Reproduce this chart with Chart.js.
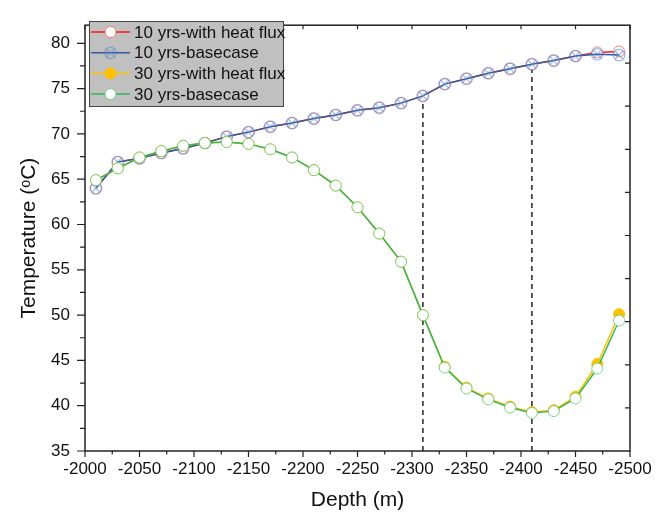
<!DOCTYPE html>
<html>
<head>
<meta charset="utf-8">
<script src="https://cdn.jsdelivr.net/npm/chart.js@4"></script>
<style>
  body { margin: 0; background: #fff; }
  #wrap { width: 670px; height: 520px; }
</style>
</head>
<body>
<div id="wrap"><canvas id="tempChart" width="670" height="520"></canvas></div>
<script>
const depth = [-2010, -2030, -2050, -2070, -2090, -2110, -2130, -2150, -2170, -2190, -2210, -2230, -2250,
               -2270, -2290, -2310, -2330, -2350, -2370, -2390, -2410, -2430, -2450, -2470, -2490];
const heat10 = [64.0, 66.9, 67.3, 67.9, 68.4, 69.0, 69.7, 70.2, 70.8, 71.2, 71.7, 72.1, 72.6,
                72.9, 73.4, 74.2, 75.5, 76.1, 76.7, 77.2, 77.7, 78.1, 78.6, 79.0, 79.1];
const base10 = [64.0, 66.9, 67.3, 67.9, 68.4, 69.0, 69.7, 70.2, 70.8, 71.2, 71.7, 72.1, 72.6,
                72.9, 73.4, 74.2, 75.5, 76.1, 76.7, 77.2, 77.7, 78.1, 78.6, 78.8, 78.7];
const heat30 = [64.9, 66.2, 67.4, 68.1, 68.7, 69.0, 69.1, 68.9, 68.3, 67.4, 66.0, 64.3, 61.9,
                59.0, 55.9, 50.0, 44.3, 42.0, 40.8, 39.9, 39.3, 39.5, 41.0, 44.6, 50.1];
const base30 = [64.9, 66.2, 67.4, 68.1, 68.7, 69.0, 69.1, 68.9, 68.3, 67.4, 66.0, 64.3, 61.9,
                59.0, 55.9, 50.0, 44.2, 41.9, 40.7, 39.8, 39.2, 39.4, 40.8, 44.1, 49.4];
const seriesNames = ["10 yrs-with heat flux", "10 yrs-basecase", "30 yrs-with heat flux", "30 yrs-basecase"];
const yTicks = [35, 40, 45, 50, 55, 60, 65, 70, 75, 80];
const dashDepths = [-2310, -2410];

const FONT = 'Arial, "Liberation Sans", sans-serif';

// circle with an X in it, like Origin's "crossed circle" symbol
function crossCircle(color) {
  const c = document.createElement("canvas");
  c.width = 14; c.height = 14;
  const g = c.getContext("2d");
  g.strokeStyle = color;
  g.lineWidth = 1.1;
  g.beginPath();
  g.arc(7, 7, 5.8, 0, Math.PI * 2);
  g.stroke();
  g.beginPath();
  g.moveTo(2.9, 2.9); g.lineTo(11.1, 11.1);
  g.moveTo(11.1, 2.9); g.lineTo(2.9, 11.1);
  g.stroke();
  return c;
}
const blueMark = crossCircle("rgba(95,135,205,0.7)");

function pts(vals) {
  return depth.map((d, i) => ({ x: d, y: vals[i] }));
}

const datasets = [
  { label: seriesNames[0], data: pts(heat10), borderColor: "#ff1a1a", borderWidth: 1.5,
    pointStyle: "circle", pointRadius: 5.5, pointBackgroundColor: "#fff",
    pointBorderColor: "rgba(255,80,80,0.7)", pointBorderWidth: 1, order: 4 },
  { label: seriesNames[1], data: pts(base10), borderColor: "#2f5d9e", borderWidth: 1.5,
    pointStyle: blueMark, pointRadius: 5.5, order: 3 },
  { label: seriesNames[2], data: pts(heat30), borderColor: "#ffc000", borderWidth: 1.5,
    pointStyle: "circle", pointRadius: 5.5, pointBackgroundColor: "#ffc000",
    pointBorderColor: "#ffc000", pointBorderWidth: 1, order: 2 },
  { label: seriesNames[3], data: pts(base30), borderColor: "#35b654", borderWidth: 1.5,
    pointStyle: "circle", pointRadius: 5.5, pointBackgroundColor: "#fff",
    pointBorderColor: "rgba(80,200,110,0.75)", pointBorderWidth: 1, order: 1 }
];

const originLook = {
  id: "originLook",
  beforeDatasetsDraw(chart) {
    const { ctx, scales: { x, y } } = chart;
    ctx.save();
    ctx.strokeStyle = "#222";
    ctx.lineWidth = 1.5;
    ctx.setLineDash([5, 4]);
    dashDepths.forEach(d => {
      const top = base10[depth.indexOf(d)];
      const px = x.getPixelForValue(d);
      ctx.beginPath();
      ctx.moveTo(px, y.getPixelForValue(35));
      ctx.lineTo(px, y.getPixelForValue(top));
      ctx.stroke();
    });
    ctx.restore();
  },
  afterDraw(chart) {
    const { ctx, chartArea: a, scales: { x, y, y2 } } = chart;
    ctx.save();
    ctx.strokeStyle = "#222";
    ctx.lineWidth = 1.5;
    ctx.strokeRect(a.left, a.top, a.right - a.left, a.bottom - a.top);

    ctx.lineWidth = 1.2;
    ctx.beginPath();
    // bottom + top ticks
    for (let v = -2000; v >= -2500; v -= 25) {
      const px = x.getPixelForValue(v);
      const major = v % 50 === 0;
      ctx.moveTo(px, a.bottom);
      ctx.lineTo(px, a.bottom + (major ? 6 : 3.5));
      if (major) {
        ctx.moveTo(px, a.top);
        ctx.lineTo(px, a.top + 4);
      }
    }
    // left ticks
    for (let v = 35; v <= 82; v += 2.5) {
      const py = y.getPixelForValue(v);
      const major = v % 5 === 0;
      ctx.moveTo(a.left, py);
      ctx.lineTo(a.left - (major ? 8 : 5), py);
    }
    // right ticks (opposite axis)
    for (let v = 1; v <= 9; v++) {
      const py = y2.getPixelForValue(v);
      ctx.moveTo(a.right, py);
      ctx.lineTo(a.right - 5, py);
    }
    ctx.stroke();

    // legend box
    const lx = 89, ly = 21, lw = 194, lh = 85;
    ctx.fillStyle = "#c0c0c0";
    ctx.fillRect(lx, ly, lw, lh);
    ctx.strokeStyle = "#444";
    ctx.lineWidth = 1;
    ctx.strokeRect(lx + 0.5, ly + 0.5, lw, lh);
    ctx.font = "17px " + FONT;
    ctx.textBaseline = "middle";
    chart.data.datasets.forEach((ds, i) => {
      const ry = 32 + i * 20.7;
      ctx.strokeStyle = ds.borderColor;
      ctx.lineWidth = 1.5;
      ctx.beginPath();
      ctx.moveTo(91, ry);
      ctx.lineTo(130, ry);
      ctx.stroke();
      if (ds.pointStyle === "circle") {
        ctx.beginPath();
        ctx.arc(110.5, ry, 5.5, 0, Math.PI * 2);
        ctx.fillStyle = ds.pointBackgroundColor;
        ctx.fill();
        ctx.strokeStyle = ds.pointBorderColor;
        ctx.lineWidth = 1;
        ctx.stroke();
      } else {
        ctx.drawImage(ds.pointStyle, 110.5 - 7, ry - 7);
      }
      ctx.fillStyle = "#111";
      ctx.fillText(ds.label, 134, ry + 1);
    });
    ctx.restore();
  }
};

new Chart(document.getElementById("tempChart").getContext("2d"), {
  type: "line",
  data: { datasets: datasets },
  options: {
    responsive: false,
    animation: false,
    layout: { padding: { top: 14, right: 40, left: 0, bottom: 0 } },
    elements: { line: { tension: 0 } },
    plugins: { legend: { display: false }, tooltip: { enabled: false } },
    scales: {
      x: {
        type: "linear",
        min: -2500,
        max: -2000,
        reverse: true,
        border: { display: false },
        grid: { display: true, drawOnChartArea: false, drawTicks: false },
        ticks: { stepSize: 50, padding: 8, color: "#111", font: { family: FONT, size: 17 },
                 maxRotation: 0, autoSkip: false, callback: v => String(v) },
        title: { display: true, text: "Depth (m)", color: "#111",
                 font: { family: FONT, size: 21 }, padding: { top: 7, bottom: 7 } },
        afterFit(scale) { scale.height = 69; }
      },
      y: {
        min: 35,
        max: 82,
        border: { display: false },
        grid: { display: true, drawOnChartArea: false, drawTicks: false },
        afterBuildTicks(scale) { scale.ticks = yTicks.map(v => ({ value: v })); },
        ticks: { padding: 15, color: "#111", font: { family: FONT, size: 17 } },
        title: { display: true, text: "Temperature (\u1D52C)", color: "#111",
                 font: { family: FONT, size: 21 }, padding: { top: 17, bottom: 17 } },
        afterFit(scale) { scale.width = 85; }
      },
      y2: {
        position: "right",
        display: false,
        min: 0,
        max: 9.88
      }
    }
  },
  plugins: [originLook]
});
</script>
</body>
</html>
